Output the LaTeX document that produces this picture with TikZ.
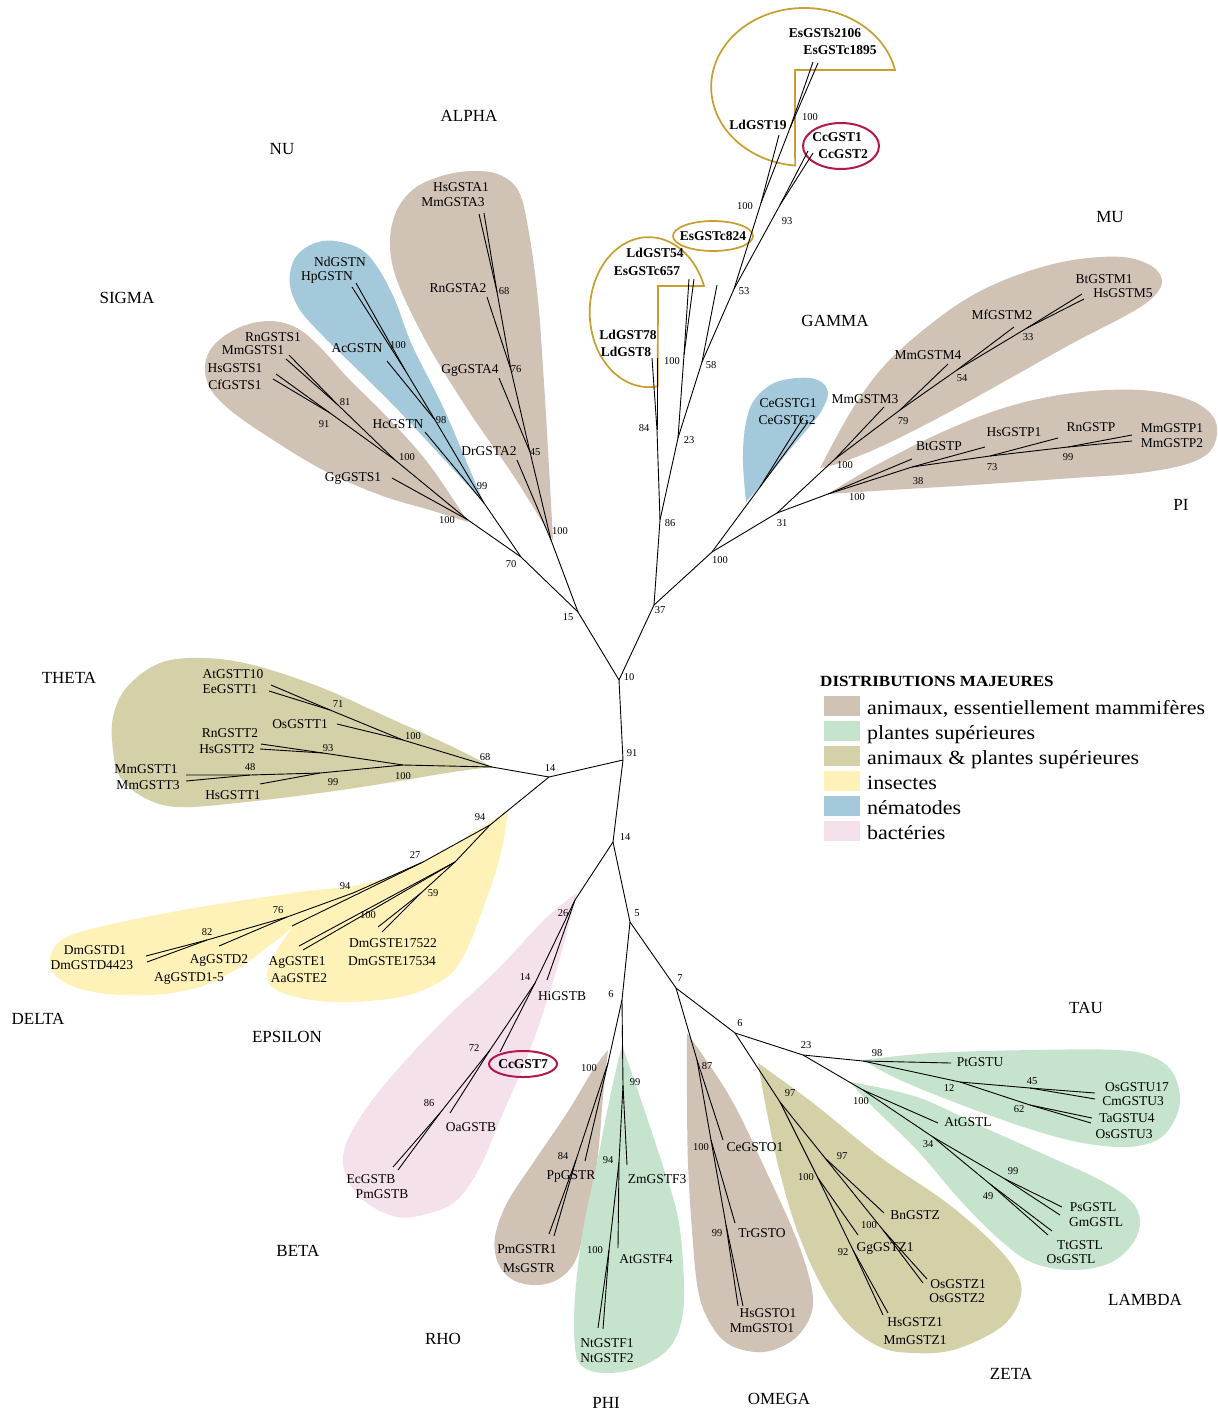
\documentclass[tikz,border=0pt]{standalone}
\usepackage{fontspec}
\setmainfont{Liberation Serif}
\definecolor{mammal}{RGB}{209,194,182}
\definecolor{plant}{RGB}{198,228,205}
\definecolor{mixed}{RGB}{212,208,168}
\definecolor{insect}{RGB}{255,242,185}
\definecolor{nematode}{RGB}{164,201,218}
\definecolor{bacteria}{RGB}{245,225,236}
\definecolor{gold}{RGB}{199,158,48}
\definecolor{crimson}{RGB}{178,24,78}
\begin{document}
\begin{tikzpicture}[x=1pt,y=-1pt,
  edge/.style={line width=0.9pt, line join=round},
  leaf/.style={inner sep=0pt, font=\fontsize{13.5}{15}\selectfont, text height=9.3pt, text depth=0pt},
  leafb/.style={leaf, font=\fontsize{13.5}{15}\selectfont\bfseries},
  boot/.style={inner sep=0pt, font=\fontsize{10.5}{12}\selectfont, text height=7.2pt, text depth=0pt},
  clade/.style={inner sep=0pt, font=\fontsize{17}{19}\selectfont, text height=11.5pt, text depth=0pt},
  lobe/.style={smooth, tension=0.6},
  goldline/.style={draw=gold, line width=1.7pt},
  ringed/.style={draw=crimson, line width=2pt},
  swatch/.style={minimum width=36pt, minimum height=20pt, inner sep=0pt},
  legtext/.style={anchor=base west, inner sep=0pt, font=\fontsize{20}{22}\selectfont},
]
\useasboundingbox (0,0) rectangle (1218,1414);
\fill[white] (0,0) rectangle (1218,1414);

% ---------- shaded families ----------
% sigma
\fill[mammal] plot[lobe] coordinates {(468,522) (428,463) (388,418) (348,378) (318,345) (295,327) (268,321) (238,328) (214,345) (205,365) (210,388) (230,410) (270,438) (323,470) (380,495) (430,510) (468,522)} -- cycle;
% nu
\fill[nematode] plot[lobe] coordinates {(484,503) (440,455) (400,412) (360,372) (325,338) (300,310) (290,285) (293,262) (305,248) (323,241) (341,242) (362,250) (378,268) (395,300) (412,345) (443,407) (470,470) (484,503)} -- cycle;
% alpha
\fill[mammal] plot[lobe] coordinates {(553,540) (549,467) (544,383) (538,300) (529,233) (519,192) (500,175) (475,171) (445,175) (415,188) (396,212) (390,245) (398,283) (428,345) (470,413) (515,478) (553,540)} -- cycle;
% mu
\fill[mammal] plot[lobe] coordinates {(820,468) (850,413) (883,367) (927,327) (973,295) (1023,273) (1073,260) (1123,257) (1153,267) (1162,283) (1150,300) (1123,317) (1073,343) (1007,380) (940,417) (880,447) (840,463) (820,468)} -- cycle;
% pi
\fill[mammal] plot[lobe] coordinates {(828,494) (873,467) (940,433) (1007,407) (1073,393) (1140,390) (1190,400) (1215,420) (1213,447) (1190,463) (1140,473) (1073,478) (973,485) (890,490) (828,494)} -- cycle;
% gamma
\fill[nematode] plot[lobe] coordinates {(746,502) (743,462) (745,428) (753,402) (772,384) (797,378) (818,380) (828,392) (822,410) (810,426) (787,453) (767,478) (746,502)} -- cycle;
% theta
\fill[mixed] plot[lobe] coordinates {(492,767) (453,747) (387,717) (320,687) (253,665) (203,658) (160,663) (127,687) (113,717) (113,750) (120,777) (143,797) (177,807) (237,803) (320,793) (387,783) (453,772) (492,767)} -- cycle;
% delta and epsilon
\fill[insect] plot[lobe] coordinates {(508,810) (433,857) (367,883) (300,892) (200,907) (117,923) (67,937) (50,957) (58,978) (93,992) (150,995) (200,987) (240,967) (273,943) (293,927)}
  -- plot[lobe] coordinates {(293,927) (277,950) (267,977) (283,993) (333,1002) (400,997) (443,980) (463,957) (480,917) (500,857) (508,810)} -- cycle;
% beta
\fill[bacteria] plot[lobe] coordinates {(577,893) (563,947) (543,1013) (523,1067) (503,1113) (480,1167) (457,1200) (430,1213) (397,1217) (363,1200) (345,1173) (345,1147) (363,1113) (397,1070) (447,1017) (497,970) (547,917) (577,893)} -- cycle;
% rho
\fill[mammal] plot[lobe] coordinates {(608,1050) (603,1097) (597,1163) (587,1213) (577,1257) (560,1278) (537,1285) (513,1280) (498,1263) (495,1237) (507,1203) (533,1163) (567,1113) (593,1070) (608,1050)} -- cycle;
% phi
\fill[plant] plot[lobe] coordinates {(622,1045) (640,1097) (660,1157) (677,1213) (683,1263) (683,1313) (670,1347) (640,1367) (607,1373) (583,1367) (575,1347) (575,1297) (583,1230) (597,1163) (610,1097) (622,1045)} -- cycle;
% omega
\fill[mammal] plot[lobe] coordinates {(687,1033) (730,1097) (767,1173) (797,1240) (812,1290) (810,1317) (793,1340) (763,1352) (730,1345) (710,1323) (698,1290) (692,1230) (688,1163) (687,1097) (687,1033)} -- cycle;
% zeta
\fill[mixed] plot[lobe] coordinates {(758,1063) (813,1103) (880,1157) (947,1203) (997,1247) (1020,1280) (1017,1307) (997,1330) (953,1350) (913,1353) (880,1347) (847,1323) (820,1283) (797,1230) (780,1173) (767,1113) (758,1063)} -- cycle;
% tau
\fill[plant] plot[lobe] coordinates {(863,1060) (933,1053) (1033,1050) (1117,1050) (1153,1057) (1173,1073) (1180,1100) (1173,1123) (1157,1140) (1127,1147) (1083,1143) (1033,1130) (967,1107) (900,1080) (863,1060)} -- cycle;
% lambda
\fill[plant] plot[lobe] coordinates {(850,1082) (917,1097) (983,1127) (1050,1157) (1100,1180) (1130,1200) (1140,1220) (1133,1243) (1110,1263) (1073,1270) (1033,1263) (1000,1240) (960,1200) (917,1150) (873,1107) (850,1082)} -- cycle;

% ---------- outlined groups ----------
\draw[goldline] (895,70) arc[start angle=-12.4, end angle=-264.4, x radius=93, y radius=79] -- (795,70) -- cycle;
\draw[goldline] (704,286) arc[start angle=-20.4, end angle=-278.8, x radius=59, y radius=75] -- (658,286) -- cycle;
\draw[goldline] (713,236) ellipse[x radius=40, y radius=15];
\draw[ringed] (841,146) ellipse[x radius=38, y radius=23];
\draw[ringed] (523,1064) ellipse[x radius=34, y radius=13];

% ---------- tree points ----------
\coordinate (r10) at (619,680);
\coordinate (n15) at (578,612);
\coordinate (n37) at (654,605);
\coordinate (n91) at (623,760);
\coordinate (n70) at (521,557);
\coordinate (n14l) at (549,777);
\coordinate (n14b) at (613,842);
\coordinate (n5) at (630,922);
\coordinate (n6) at (622,1000);
\coordinate (n7) at (676,988);
\coordinate (n6b) at (735,1033);
\coordinate (n23b) at (803,1055);
% sigma, nu, alpha
\coordinate (srt) at (468,520);
\coordinate (nrt) at (484,503);
\coordinate (art) at (551,540);
\coordinate (s100) at (395,460);
\coordinate (s81) at (338,405);
\coordinate (s91) at (330,413);
\coordinate (tRnS) at (289,355);
\coordinate (tMmS) at (286,359);
\coordinate (tHsS) at (276,374);
\coordinate (tCfS) at (273,379);
\coordinate (tGgS) at (392,478);
\coordinate (nu98) at (435,420);
\coordinate (nu100) at (405,370);
\coordinate (tNd) at (356,283);
\coordinate (tHp) at (352,287);
\coordinate (tAc) at (387,361);
\coordinate (tHc) at (425,432);
\coordinate (a45) at (530,452);
\coordinate (a76) at (511,370);
\coordinate (a68) at (497,292);
\coordinate (tDr) at (517,460);
\coordinate (tGgA) at (499,378);
\coordinate (tRnA) at (487,297);
\coordinate (tHsA) at (479,214);
\coordinate (tMmA) at (484,213);
% upper group
\coordinate (n86) at (660,520);
\coordinate (n84) at (657,430);
\coordinate (tLd78) at (652,358);
\coordinate (tLd8) at (657,358);
\coordinate (n23) at (678,438);
\coordinate (n100b) at (684,355);
\coordinate (tLd54) at (689,279);
\coordinate (tEs657) at (694,279);
\coordinate (n58) at (702,362);
\coordinate (tEs824) at (717,285);
\coordinate (n53) at (734,289);
\coordinate (n100a) at (761,203);
\coordinate (tLd19) at (779,135);
\coordinate (nEs) at (790,128);
\coordinate (tEs2106) at (813,62);
\coordinate (tEs1895) at (818,63);
\coordinate (n93) at (780,205);
\coordinate (tCc1) at (808,151);
\coordinate (tCc2) at (813,153);
% gamma, mu, pi
\coordinate (g100) at (712,552);
\coordinate (gsp) at (760,487);
\coordinate (tCeG1) at (803,418);
\coordinate (tCeG2) at (808,422);
\coordinate (n31) at (777,513);
\coordinate (mrt) at (835,459);
\coordinate (m79) at (900,410);
\coordinate (m54) at (957,370);
\coordinate (m33) at (1027,328);
\coordinate (tM3) at (884,407);
\coordinate (tM4) at (948,364);
\coordinate (tMf) at (1014,327);
\coordinate (tBtM) at (1082,294);
\coordinate (tHsM) at (1084,299);
\coordinate (prt) at (828,494);
\coordinate (p38) at (912,467);
\coordinate (p73) at (990,456);
\coordinate (p99) at (1068,447);
\coordinate (tBtP) at (912,459);
\coordinate (tHsP) at (985,447);
\coordinate (tRnP) at (1058,438);
\coordinate (tMmP1) at (1132,435);
\coordinate (tMmP2) at (1132,441);
% theta
\coordinate (thr) at (492,767);
\coordinate (th100a) at (403,740);
\coordinate (th71) at (330,710);
\coordinate (th100b) at (403,765);
\coordinate (th93) at (323,753);
\coordinate (th99) at (320,773);
\coordinate (th48) at (250,775);
\coordinate (tAtT) at (271,685);
\coordinate (tEeT) at (269,691);
\coordinate (tOsT) at (337,724);
\coordinate (tRnT) at (261,744);
\coordinate (tHsT2) at (260,749);
\coordinate (tMmT1) at (186,775);
\coordinate (tMmT3) at (186,781);
\coordinate (tHsT1) at (260,784);
% delta, epsilon
\coordinate (n94) at (490,825);
\coordinate (d27) at (423,862);
\coordinate (d94) at (353,893);
\coordinate (d76) at (287,917);
\coordinate (d82) at (207,940);
\coordinate (tAgD15) at (292,926);
\coordinate (tAgD2) at (219,946);
\coordinate (tDmD1) at (146,956);
\coordinate (tDmD4423) at (147,962);
\coordinate (ert) at (455,862);
\coordinate (e59) at (421,893);
\coordinate (tAgE1) at (299,946);
\coordinate (tAaE2) at (303,950);
\coordinate (tDmE1) at (378,927);
\coordinate (tDmE2) at (382,932);
% beta
\coordinate (b26) at (575,900);
\coordinate (b14) at (535,983);
\coordinate (b72) at (490,1050);
\coordinate (b86) at (440,1113);
\coordinate (tHi) at (547,980);
\coordinate (tCc7) at (500,1052);
\coordinate (tOa) at (450,1113);
\coordinate (tEc) at (393,1167);
\coordinate (tPmB) at (398,1170);
% rho, phi
\coordinate (r100) at (608,1063);
\coordinate (r84) at (576,1160);
\coordinate (tPp) at (585,1161);
\coordinate (tPmR) at (549,1234);
\coordinate (tMsR) at (554,1236);
\coordinate (f99) at (623,1085);
\coordinate (f94) at (619,1162);
\coordinate (f100) at (609,1250);
\coordinate (tZm) at (627,1165);
\coordinate (tAtF) at (618,1248);
\coordinate (tNt1) at (598,1328);
\coordinate (tNt2) at (603,1329);
% omega
\coordinate (o87) at (697,1060);
\coordinate (o100) at (711,1140);
\coordinate (o99) at (726,1225);
\coordinate (tCeO) at (723,1140);
\coordinate (tTr) at (735,1223);
\coordinate (tHsO) at (738,1306);
\coordinate (tMmO) at (743,1306);
% zeta
\coordinate (z97) at (780,1102);
\coordinate (z97b) at (825,1158);
\coordinate (zos) at (883,1230);
\coordinate (z100) at (818,1178);
\coordinate (z92) at (853,1250);
\coordinate (tBn) at (884,1213);
\coordinate (tOsZ1) at (927,1279);
\coordinate (tOsZ2) at (923,1283);
\coordinate (tGgZ) at (858,1235);
\coordinate (tHsZ) at (883,1315);
\coordinate (tMmZ) at (888,1313);
% tau, lambda
\coordinate (u98) at (863,1061);
\coordinate (u12) at (960,1082);
\coordinate (u45) at (1030,1088);
\coordinate (u62) at (1030,1105);
\coordinate (tPt) at (951,1063);
\coordinate (tOsU17) at (1095,1093);
\coordinate (tCmU3) at (1095,1099);
\coordinate (tTaU4) at (1092,1118);
\coordinate (tOsU3) at (1091,1123);
\coordinate (l100) at (863,1090);
\coordinate (l34) at (933,1137);
\coordinate (l99) at (1005,1179);
\coordinate (l49) at (990,1184);
\coordinate (tAtL) at (938,1123);
\coordinate (tPs) at (1062,1207);
\coordinate (tGm) at (1060,1215);
\coordinate (tTt) at (1052,1231);
\coordinate (tOsL) at (1048,1235);

% ---------- branches ----------
\draw[edge] (n15) -- (r10) -- (n37);
\draw[edge] (r10) -- (n91) -- (n14b) -- (n5) -- (n7) -- (n6b) -- (n23b);
\draw[edge] (n91) -- (n14l);
\draw[edge] (n5) -- (n6);
\draw[edge] (n15) -- (n70) -- (srt);
\draw[edge] (n70) -- (nrt);
\draw[edge] (n15) -- (art);
\draw[edge] (srt) -- (tGgS);
\draw[edge] (srt) -- (s100) -- (s81) -- (tRnS);
\draw[edge] (s81) -- (tMmS);
\draw[edge] (s100) -- (s91) -- (tHsS);
\draw[edge] (s91) -- (tCfS);
\draw[edge] (nrt) -- (tHc);
\draw[edge] (nrt) -- (nu98) -- (tAc);
\draw[edge] (nu98) -- (nu100) -- (tNd);
\draw[edge] (nu100) -- (tHp);
\draw[edge] (art) -- (tDr);
\draw[edge] (art) -- (a45) -- (a76) -- (a68) -- (tHsA);
\draw[edge] (a68) -- (tMmA);
\draw[edge] (a45) -- (tGgA);
\draw[edge] (a76) -- (tRnA);
\draw[edge] (n37) -- (n86) -- (n84) -- (tLd78);
\draw[edge] (n84) -- (tLd8);
\draw[edge] (n86) -- (n23) -- (n100b) -- (tLd54);
\draw[edge] (n100b) -- (tEs657);
\draw[edge] (n23) -- (n58) -- (tEs824);
\draw[edge] (n58) -- (n53) -- (n100a) -- (tLd19);
\draw[edge] (n100a) -- (nEs) -- (tEs2106);
\draw[edge] (nEs) -- (tEs1895);
\draw[edge] (n53) -- (n93) -- (tCc1);
\draw[edge] (n93) -- (tCc2);
\draw[edge] (n37) -- (g100) -- (gsp) -- (tCeG1);
\draw[edge] (gsp) -- (tCeG2);
\draw[edge] (g100) -- (n31) -- (mrt) -- (tM3);
\draw[edge] (mrt) -- (m79) -- (tM4);
\draw[edge] (m79) -- (m54) -- (tMf);
\draw[edge] (m54) -- (m33) -- (tBtM);
\draw[edge] (m33) -- (tHsM);
\draw[edge] (n31) -- (prt) -- (tBtP);
\draw[edge] (prt) -- (p38) -- (tHsP);
\draw[edge] (p38) -- (p73) -- (tRnP);
\draw[edge] (p73) -- (p99) -- (tMmP1);
\draw[edge] (p99) -- (tMmP2);
\draw[edge] (n14l) -- (thr) -- (th100a) -- (th71) -- (tAtT);
\draw[edge] (th71) -- (tEeT);
\draw[edge] (th100a) -- (tOsT);
\draw[edge] (thr) -- (th100b) -- (th93) -- (tRnT);
\draw[edge] (th93) -- (tHsT2);
\draw[edge] (th100b) -- (th99) -- (th48) -- (tMmT1);
\draw[edge] (th48) -- (tMmT3);
\draw[edge] (th99) -- (tHsT1);
\draw[edge] (n14l) -- (n94) -- (d27) -- (tAgD15);
\draw[edge] (d27) -- (d94) -- (d76) -- (d82) -- (tDmD1);
\draw[edge] (d82) -- (tDmD4423);
\draw[edge] (d76) -- (tAgD2);
\draw[edge] (n94) -- (ert) -- (tAgE1);
\draw[edge] (ert) -- (tAaE2);
\draw[edge] (ert) -- (e59) -- (tDmE1);
\draw[edge] (e59) -- (tDmE2);
\draw[edge] (n14b) -- (b26) -- (tHi);
\draw[edge] (b26) -- (b14) -- (tCc7);
\draw[edge] (b14) -- (b72) -- (tOa);
\draw[edge] (b72) -- (b86) -- (tEc);
\draw[edge] (b86) -- (tPmB);
\draw[edge] (n6) -- (r100) -- (tPp);
\draw[edge] (r100) -- (r84) -- (tPmR);
\draw[edge] (r84) -- (tMsR);
\draw[edge] (n6) -- (f99) -- (tZm);
\draw[edge] (f99) -- (f94) -- (tAtF);
\draw[edge] (f94) -- (f100) -- (tNt1);
\draw[edge] (f100) -- (tNt2);
\draw[edge] (n7) -- (o87) -- (tCeO);
\draw[edge] (o87) -- (o100) -- (tTr);
\draw[edge] (o100) -- (o99) -- (tHsO);
\draw[edge] (o99) -- (tMmO);
\draw[edge] (n6b) -- (z97) -- (z97b) -- (tBn);
\draw[edge] (z97b) -- (zos) -- (tOsZ1);
\draw[edge] (zos) -- (tOsZ2);
\draw[edge] (z97) -- (z100) -- (tGgZ);
\draw[edge] (z100) -- (z92) -- (tHsZ);
\draw[edge] (z92) -- (tMmZ);
\draw[edge] (n23b) -- (u98) -- (tPt);
\draw[edge] (u98) -- (u12) -- (u45) -- (tOsU17);
\draw[edge] (u45) -- (tCmU3);
\draw[edge] (u12) -- (u62) -- (tTaU4);
\draw[edge] (u62) -- (tOsU3);
\draw[edge] (n23b) -- (l100) -- (tAtL);
\draw[edge] (l100) -- (l34) -- (l99) -- (tPs);
\draw[edge] (l99) -- (tGm);
\draw[edge] (l34) -- (l49) -- (tTt);
\draw[edge] (l49) -- (tOsL);

% ---------- sequence names ----------
\node[leafb] (LEs2106) at (825,33) {EsGSTs2106};
\node[leafb] (LEs1895) at (840,50) {EsGSTc1895};
\node[leafb] (LLd19) at (758,125) {LdGST19};
\node[leafb] (LCc1) at (837,137) {CcGST1};
\node[leafb] (LCc2) at (843,154) {CcGST2};
\node[leafb] (LEs824) at (713,236) {EsGSTc824};
\node[leafb] (LLd54) at (655,253) {LdGST54};
\node[leafb] (LEs657) at (647,271) {EsGSTc657};
\node[leafb] (LLd78) at (628,335) {LdGST78};
\node[leafb] (LLd8) at (626,352) {LdGST8};
\node[leaf] (LHsA) at (461,187) {HsGSTA1};
\node[leaf] (LMmA) at (453,202) {MmGSTA3};
\node[leaf] (LRnA) at (458,288) {RnGSTA2};
\node[leaf] (LGgA) at (470,369) {GgGSTA4};
\node[leaf] (LDrA) at (489,451) {DrGSTA2};
\node[leaf] (LNd) at (340,262) {NdGSTN};
\node[leaf] (LHp) at (327,276) {HpGSTN};
\node[leaf] (LAc) at (357,348) {AcGSTN};
\node[leaf] (LHc) at (398,424) {HcGSTN};
\node[leaf] (LRnS) at (273,337) {RnGSTS1};
\node[leaf] (LMmS) at (253,350) {MmGSTS1};
\node[leaf] (LHsS) at (235,368) {HsGSTS1};
\node[leaf] (LCfS) at (235,385) {CfGSTS1};
\node[leaf] (LGgS) at (353,477) {GgGSTS1};
\node[leaf] (LM3) at (865,399) {MmGSTM3};
\node[leaf] (LM4) at (928,355) {MmGSTM4};
\node[leaf] (LMf) at (1002,315) {MfGSTM2};
\node[leaf] (LBtM) at (1104,279) {BtGSTM1};
\node[leaf] (LHsM) at (1123,293) {HsGSTM5};
\node[leaf] (LBtP) at (939,446) {BtGSTP};
\node[leaf] (LHsP) at (1014,432) {HsGSTP1};
\node[leaf] (LRnP) at (1091,427) {RnGSTP};
\node[leaf] (LMmP1) at (1172,428) {MmGSTP1};
\node[leaf] (LMmP2) at (1172,443) {MmGSTP2};
\node[leaf] (LCeG1) at (788,403) {CeGSTG1};
\node[leaf] (LCeG2) at (787,420) {CeGSTG2};
\node[leaf] (LAtT) at (233,674) {AtGSTT10};
\node[leaf] (LEeT) at (230,689) {EeGSTT1};
\node[leaf] (LOsT) at (300,724) {OsGSTT1};
\node[leaf] (LRnT) at (230,733) {RnGSTT2};
\node[leaf] (LHsT2) at (227,749) {HsGSTT2};
\node[leaf] (LMmT1) at (146,769) {MmGSTT1};
\node[leaf] (LMmT3) at (148,785) {MmGSTT3};
\node[leaf] (LHsT1) at (233,795) {HsGSTT1};
\node[leaf] (LDmD1) at (95,950) {DmGSTD1};
\node[leaf] (LDmD4423) at (92,965) {DmGSTD4423};
\node[leaf] (LAgD2) at (219,959) {AgGSTD2};
\node[leaf] (LAgD15) at (189,977) {AgGSTD1-5};
\node[leaf] (LAgE1) at (297,961) {AgGSTE1};
\node[leaf] (LAaE2) at (299,978) {AaGSTE2};
\node[leaf] (LDmE1) at (393,943) {DmGSTE17522};
\node[leaf] (LDmE2) at (392,961) {DmGSTE17534};
\node[leaf] (LHi) at (562,996) {HiGSTB};
\node[leafb] (LCc7) at (523,1064) {CcGST7};
\node[leaf] (LOa) at (471,1127) {OaGSTB};
\node[leaf] (LEc) at (371,1179) {EcGSTB};
\node[leaf] (LPmB) at (382,1194) {PmGSTB};
\node[leaf] (LPp) at (571,1175) {PpGSTR};
\node[leaf] (LPmR) at (527,1249) {PmGSTR1};
\node[leaf] (LMsR) at (529,1268) {MsGSTR};
\node[leaf] (LZm) at (657,1179) {ZmGSTF3};
\node[leaf] (LAtF) at (646,1259) {AtGSTF4};
\node[leaf] (LNt1) at (607,1343) {NtGSTF1};
\node[leaf] (LNt2) at (607,1358) {NtGSTF2};
\node[leaf] (LCeO) at (755,1147) {CeGSTO1};
\node[leaf] (LTr) at (762,1233) {TrGSTO};
\node[leaf] (LHsO) at (768,1313) {HsGSTO1};
\node[leaf] (LMmO) at (762,1328) {MmGSTO1};
\node[leaf] (LBn) at (915,1215) {BnGSTZ};
\node[leaf] (LGgZ) at (885,1247) {GgGSTZ1};
\node[leaf] (LOsZ1) at (958,1284) {OsGSTZ1};
\node[leaf] (LOsZ2) at (957,1298) {OsGSTZ2};
\node[leaf] (LHsZ) at (915,1322) {HsGSTZ1};
\node[leaf] (LMmZ) at (915,1340) {MmGSTZ1};
\node[leaf] (LPt) at (980,1062) {PtGSTU};
\node[leaf] (LOsU17) at (1137,1087) {OsGSTU17};
\node[leaf] (LCmU3) at (1133,1101) {CmGSTU3};
\node[leaf] (LTaU4) at (1127,1118) {TaGSTU4};
\node[leaf] (LOsU3) at (1124,1134) {OsGSTU3};
\node[leaf] (LAtL) at (968,1122) {AtGSTL};
\node[leaf] (LPs) at (1093,1207) {PsGSTL};
\node[leaf] (LGm) at (1096,1222) {GmGSTL};
\node[leaf] (LTt) at (1080,1245) {TtGSTL};
\node[leaf] (LOsL) at (1071,1259) {OsGSTL};

% ---------- bootstrap values ----------
\node[boot] (B1) at (810,117) {100};
\node[boot] (B2) at (745,206) {100};
\node[boot] (B3) at (787,221) {93};
\node[boot] (B4) at (744,291) {53};
\node[boot] (B5) at (711,365) {58};
\node[boot] (B6) at (672,361) {100};
\node[boot] (B7) at (689,440) {23};
\node[boot] (B8) at (644,428) {84};
\node[boot] (B9) at (670,523) {86};
\node[boot] (B10) at (660,610) {37};
\node[boot] (B11) at (720,560) {100};
\node[boot] (B12) at (782,523) {31};
\node[boot] (B13) at (845,465) {100};
\node[boot] (B14) at (903,421) {79};
\node[boot] (B15) at (962,378) {54};
\node[boot] (B16) at (1028,337) {33};
\node[boot] (B17) at (857,497) {100};
\node[boot] (B18) at (918,481) {38};
\node[boot] (B19) at (992,467) {73};
\node[boot] (B20) at (1068,457) {99};
\node[boot] (B21) at (504,291) {68};
\node[boot] (B22) at (516,369) {76};
\node[boot] (B23) at (535,452) {45};
\node[boot] (B24) at (560,531) {100};
\node[boot] (B25) at (398,345) {100};
\node[boot] (B26) at (441,420) {98};
\node[boot] (B27) at (482,486) {99};
\node[boot] (B28) at (345,402) {81};
\node[boot] (B29) at (324,424) {91};
\node[boot] (B30) at (407,457) {100};
\node[boot] (B31) at (447,520) {100};
\node[boot] (B32) at (511,564) {70};
\node[boot] (B33) at (568,617) {15};
\node[boot] (B34) at (629,677) {10};
\node[boot] (B35) at (632,753) {91};
\node[boot] (B36) at (550,768) {14};
\node[boot] (B37) at (625,837) {14};
\node[boot] (B38) at (485,757) {68};
\node[boot] (B39) at (338,704) {71};
\node[boot] (B40) at (413,736) {100};
\node[boot] (B41) at (328,748) {93};
\node[boot] (B42) at (403,776) {100};
\node[boot] (B43) at (250,767) {48};
\node[boot] (B44) at (333,782) {99};
\node[boot] (B45) at (480,817) {94};
\node[boot] (B46) at (415,855) {27};
\node[boot] (B47) at (345,886) {94};
\node[boot] (B48) at (278,910) {76};
\node[boot] (B49) at (207,932) {82};
\node[boot] (B50) at (368,915) {100};
\node[boot] (B51) at (433,893) {59};
\node[boot] (B52) at (563,913) {26};
\node[boot] (B53) at (525,977) {14};
\node[boot] (B54) at (474,1048) {72};
\node[boot] (B55) at (429,1103) {86};
\node[boot] (B56) at (637,913) {5};
\node[boot] (B57) at (680,978) {7};
\node[boot] (B58) at (611,994) {6};
\node[boot] (B59) at (740,1023) {6};
\node[boot] (B60) at (589,1068) {100};
\node[boot] (B61) at (563,1156) {84};
\node[boot] (B62) at (635,1082) {99};
\node[boot] (B63) at (608,1160) {94};
\node[boot] (B64) at (595,1250) {100};
\node[boot] (B65) at (707,1066) {87};
\node[boot] (B66) at (701,1147) {100};
\node[boot] (B67) at (717,1233) {99};
\node[boot] (B68) at (790,1093) {97};
\node[boot] (B69) at (842,1156) {97};
\node[boot] (B70) at (806,1177) {100};
\node[boot] (B71) at (869,1225) {100};
\node[boot] (B72) at (843,1252) {92};
\node[boot] (B73) at (806,1045) {23};
\node[boot] (B74) at (877,1053) {98};
\node[boot] (B75) at (949,1088) {12};
\node[boot] (B76) at (1032,1081) {45};
\node[boot] (B77) at (1019,1109) {62};
\node[boot] (B78) at (861,1101) {100};
\node[boot] (B79) at (928,1144) {34};
\node[boot] (B80) at (1013,1171) {99};
\node[boot] (B81) at (988,1196) {49};

% ---------- class names ----------
\node[clade] (cAlpha) at (469,116) {ALPHA};
\node[clade] (cNu) at (282,149) {NU};
\node[clade] (cSigma) at (127,298) {SIGMA};
\node[clade] (cMu) at (1110,217) {MU};
\node[clade] (cGamma) at (835,321) {GAMMA};
\node[clade] (cPi) at (1181,505) {PI};
\node[clade] (cTheta) at (69,678) {THETA};
\node[clade] (cDelta) at (38,1019) {DELTA};
\node[clade] (cEpsilon) at (287,1037) {EPSILON};
\node[clade] (cBeta) at (298,1251) {BETA};
\node[clade] (cRho) at (443,1339) {RHO};
\node[clade] (cPhi) at (606,1403) {PHI};
\node[clade] (cOmega) at (779,1399) {OMEGA};
\node[clade] (cZeta) at (1011,1374) {ZETA};
\node[clade] (cTau) at (1086,1008) {TAU};
\node[clade] (cLambda) at (1145,1300) {LAMBDA};

% ---------- legend ----------
\node[anchor=base west, inner sep=0pt, font=\fontsize{15.5}{17}\selectfont\bfseries] (legtitle) at (820,686) {\scalebox{1.1}[1]{DISTRIBUTIONS MAJEURES}};
\node[swatch, fill=mammal] (sw1) at (842,706) {};
\node[swatch, fill=plant] (sw2) at (842,731) {};
\node[swatch, fill=mixed] (sw3) at (842,756) {};
\node[swatch, fill=insect] (sw4) at (842,781) {};
\node[swatch, fill=nematode] (sw5) at (842,806) {};
\node[swatch, fill=bacteria] (sw6) at (842,831) {};
\node[legtext] (lg1) at (867,714) {\scalebox{1.1}[1]{animaux, essentiellement mammifères}};
\node[legtext] (lg2) at (867,739) {\scalebox{1.1}[1]{plantes supérieures}};
\node[legtext] (lg3) at (867,764) {\scalebox{1.1}[1]{animaux \& plantes supérieures}};
\node[legtext] (lg4) at (867,789) {\scalebox{1.1}[1]{insectes}};
\node[legtext] (lg5) at (867,814) {\scalebox{1.1}[1]{nématodes}};
\node[legtext] (lg6) at (867,839) {\scalebox{1.1}[1]{bactéries}};
\end{tikzpicture}
\end{document}
